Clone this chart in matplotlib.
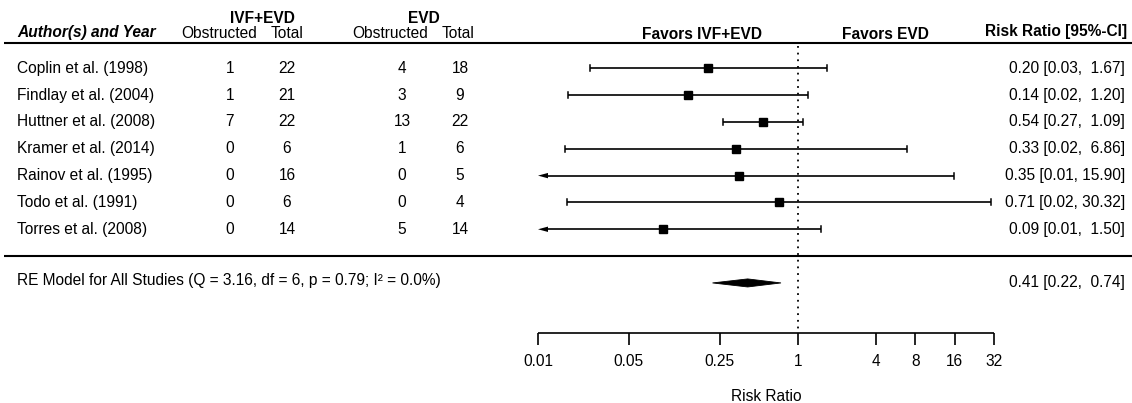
import numpy as np
import matplotlib
matplotlib.use('Agg')
import matplotlib.pyplot as plt
from matplotlib.transforms import blended_transform_factory

# ---------------- data ----------------
studies = ["Coplin et al. (1998)", "Findlay et al. (2004)", "Huttner et al. (2008)",
           "Kramer et al. (2014)", "Rainov et al. (1995)", "Todo et al. (1991)",
           "Torres et al. (2008)"]
ivf_obstructed = [1, 1, 7, 0, 0, 0, 0]
ivf_total = [22, 21, 22, 6, 16, 6, 14]
evd_obstructed = [4, 3, 13, 1, 0, 0, 5]
evd_total = [18, 9, 22, 6, 5, 4, 14]
risk_ratio = [0.2045, 0.1429, 0.5385, 0.3333, 0.3529, 0.7143, 0.0909]
ci_low = [0.0251, 0.0171, 0.2664, 0.0162, 0.0078, 0.0168, 0.0055]
ci_high = [1.672, 1.196, 1.088, 6.86, 15.90, 30.32, 1.503]
re_estimate = 0.41
re_low = 0.22
re_high = 0.74
re_label = "RE Model for All Studies (Q = 3.16, df = 6, p = 0.79; I\u00b2 = 0.0%)"
axis_ticks = [0.01, 0.05, 0.25, 1, 4, 8, 16, 32]
axis_tick_labels = ["0.01", "0.05", "0.25", "1", "4", "8", "16", "32"]

# ---------------- layout ----------------
plt.rcParams['font.family'] = ['Liberation Sans', 'DejaVu Sans']
W, H = 1132, 403
fig = plt.figure(figsize=(W / 100, H / 100), dpi=100)
ax = fig.add_axes([0, 0, 1, 1])
ax.set_xscale('log')
px_per_dec = 130.0
x_one = 798.0
ax.set_xlim(10 ** ((0 - x_one) / px_per_dec), 10 ** ((W - x_one) / px_per_dec))
row0, row_h = 68.3, 26.83
ax.set_ylim((H - row0) / row_h, (0 - row0) / row_h)
ax.axis('off')

bt = blended_transform_factory(ax.transAxes, ax.transData)
def fx(p):
    return p / W

fs = 11.2
k = 'black'

# header
ax.text(fx(17), -1.34, "Author(s) and Year", transform=bt, ha='left', va='center',
        fontsize=fs, fontweight='bold', style='italic')
ax.text(fx(262), -1.86, "IVF+EVD", transform=bt, ha='center', va='center', fontsize=fs, fontweight='bold')
ax.text(fx(424), -1.86, "EVD", transform=bt, ha='center', va='center', fontsize=fs, fontweight='bold')
for cx, lab in [(219, "Obstructed"), (287, "Total"), (390, "Obstructed"), (458, "Total")]:
    ax.text(fx(cx), -1.3, lab, transform=bt, ha='center', va='center', fontsize=fs)
ax.text(fx(702), -1.25, "Favors IVF+EVD", transform=bt, ha='center', va='center', fontsize=fs, fontweight='bold')
ax.text(fx(885), -1.25, "Favors EVD", transform=bt, ha='center', va='center', fontsize=fs, fontweight='bold')
ax.text(fx(1127), -1.36, "Risk Ratio [95%-CI]", transform=bt, ha='right', va='center', fontsize=fs, fontweight='bold')

# rules
ax.plot([fx(4), 1.0], [-0.93, -0.93], transform=bt, color=k, lw=1.5, solid_capstyle='butt')
ax.plot([fx(4), 1.0], [6.98, 6.98], transform=bt, color=k, lw=1.5, solid_capstyle='butt')

# reference line
ax.plot([1, 1], [-0.82, 9.87], color=k, lw=1.3, linestyle=(0, (1, 2.7)))

xmin = axis_ticks[0]
cap = 0.11
arrow_len = 10 ** (10 / px_per_dec)
for i, name in enumerate(studies):
    y = i
    ax.text(fx(17), y, name, transform=bt, ha='left', va='center', fontsize=fs)
    ax.text(fx(230), y, str(ivf_obstructed[i]), transform=bt, ha='center', va='center', fontsize=fs)
    ax.text(fx(287), y, str(ivf_total[i]), transform=bt, ha='center', va='center', fontsize=fs)
    ax.text(fx(402), y, str(evd_obstructed[i]), transform=bt, ha='center', va='center', fontsize=fs)
    ax.text(fx(460), y, str(evd_total[i]), transform=bt, ha='center', va='center', fontsize=fs)
    lo, hi = ci_low[i], ci_high[i]
    if lo < xmin:
        ax.plot([xmin * arrow_len, hi], [y, y], color=k, lw=1.2, solid_capstyle='butt')
        ax.fill([xmin, xmin * arrow_len, xmin * arrow_len], [y, y - 0.1, y + 0.1], color=k, lw=0)
    else:
        ax.plot([lo, hi], [y, y], color=k, lw=1.2, solid_capstyle='butt')
        ax.plot([lo, lo], [y - cap, y + cap], color=k, lw=1.1)
    ax.plot([hi, hi], [y - cap, y + cap], color=k, lw=1.1)
    ax.plot([risk_ratio[i]], [y], marker='s', markersize=5.4, color=k, linestyle='none')
    lab = "{:.2f} [{:.2f}, {:>5.2f}]".format(risk_ratio[i], lo, hi)
    ax.text(fx(1125), y, lab, transform=bt, ha='right', va='center', fontsize=fs)

# summary
yre = 8
ax.text(fx(17), yre - 0.1, re_label, transform=bt, ha='left', va='center', fontsize=fs)
h = 0.15
ax.fill([re_low, re_estimate, re_high, re_estimate], [yre, yre - h, yre, yre + h], color=k, lw=0.6, edgecolor=k)
ax.text(fx(1125), yre, "{:.2f} [{:.2f}, {:>5.2f}]".format(re_estimate, re_low, re_high),
        transform=bt, ha='right', va='center', fontsize=fs)

# x axis
ay = 9.87
ax.plot([axis_ticks[0], axis_ticks[-1]], [ay, ay], color=k, lw=1.2, solid_capstyle='butt')
ax.vlines(axis_ticks, ay, ay + 0.45, color=k, lw=1.2)
for t, tl in zip(axis_ticks, axis_tick_labels):
    ax.text(t, 10.93, tl, ha='center', va='center', fontsize=fs)
ax.text(fx(766), 12.22, "Risk Ratio", transform=bt, ha='center', va='center', fontsize=fs)

fig.savefig('out.png', dpi=100)
